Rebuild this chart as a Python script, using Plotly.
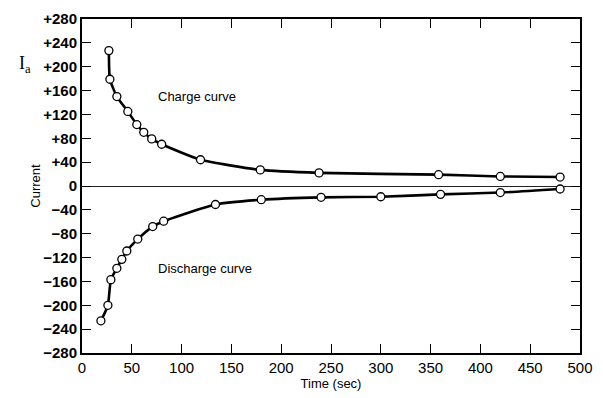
import plotly.graph_objects as go

charge_t = [27, 28, 35, 46, 55, 62, 70, 80, 119, 179, 238, 358, 420, 480]
charge_i = [227, 179, 150, 125, 103, 90, 79, 70, 44, 27, 22, 19, 16, 15]

discharge_t = [19, 26, 29, 35, 40, 45, 56, 71, 82, 134, 180, 240, 300, 360, 420, 480]
discharge_i = [-226, -200, -157, -138, -123, -109, -89, -68, -59, -31, -23, -19, -18, -14, -11, -5]

y_ticks = [280, 240, 200, 160, 120, 80, 40, 0, -40, -80, -120, -160, -200, -240, -280]
y_tick_labels = ["+280", "+240", "+200", "+160", "+120", "+80", "+40", "0",
                 "\u221240", "\u221280", "\u2212120", "\u2212160", "\u2212200", "\u2212240", "\u2212280"]
x_ticks = [0, 50, 100, 150, 200, 250, 300, 350, 400, 450, 500]

fig = go.Figure()
for t, i in [(charge_t, charge_i), (discharge_t, discharge_i)]:
    fig.add_trace(go.Scatter(
        x=t, y=i, mode="lines",
        line=dict(color="black", width=2.6, shape="spline", smoothing=0.5),
        hoverinfo="skip", showlegend=False))
    fig.add_trace(go.Scatter(
        x=t, y=i, mode="markers",
        marker=dict(symbol="circle", size=8, color="white",
                    line=dict(color="black", width=1.3)),
        showlegend=False))

fig.add_annotation(x=74, y=150, text="Charge curve", showarrow=False,
                   xanchor="left", font=dict(family="Liberation Sans, Arial", size=13, color="black"))
fig.add_annotation(x=74, y=-139, text="Discharge curve", showarrow=False,
                   xanchor="left", font=dict(family="Liberation Sans, Arial", size=13, color="black"))
fig.add_annotation(xref="paper", yref="paper", x=-0.13, y=0.905,
                   text="I<sub>a</sub>", showarrow=False,
                   font=dict(family="Liberation Serif, Times New Roman", size=18, color="black"))

fig.update_layout(
    width=603, height=398,
    margin=dict(l=82, r=13, t=10, b=45),
    paper_bgcolor="white", plot_bgcolor="white",
    font=dict(family="Liberation Sans, Arial", color="black"),
)
fig.update_xaxes(
    range=[0, 500], tickvals=x_ticks, ticks="inside", ticklen=9, tickwidth=1.2,
    tickcolor="black", showline=True, linecolor="black", linewidth=2, mirror="ticks",
    showgrid=False, zeroline=False,
    tickfont=dict(size=15, family="Liberation Sans, Arial"),
    title=dict(text="Time (sec)", font=dict(size=13), standoff=2),
)
fig.update_yaxes(
    range=[-280, 280], tickvals=y_ticks, ticktext=y_tick_labels,
    ticks="inside", ticklen=9, tickwidth=1.2, tickcolor="black",
    showline=True, linecolor="black", linewidth=2, mirror="ticks",
    showgrid=False, zeroline=True, zerolinecolor="#222", zerolinewidth=1,
    tickfont=dict(size=15, family="Liberation Sans, Arial", weight="bold"),
    title=dict(text="Current", font=dict(size=13), standoff=0),
)

fig.write_html("out.html")
